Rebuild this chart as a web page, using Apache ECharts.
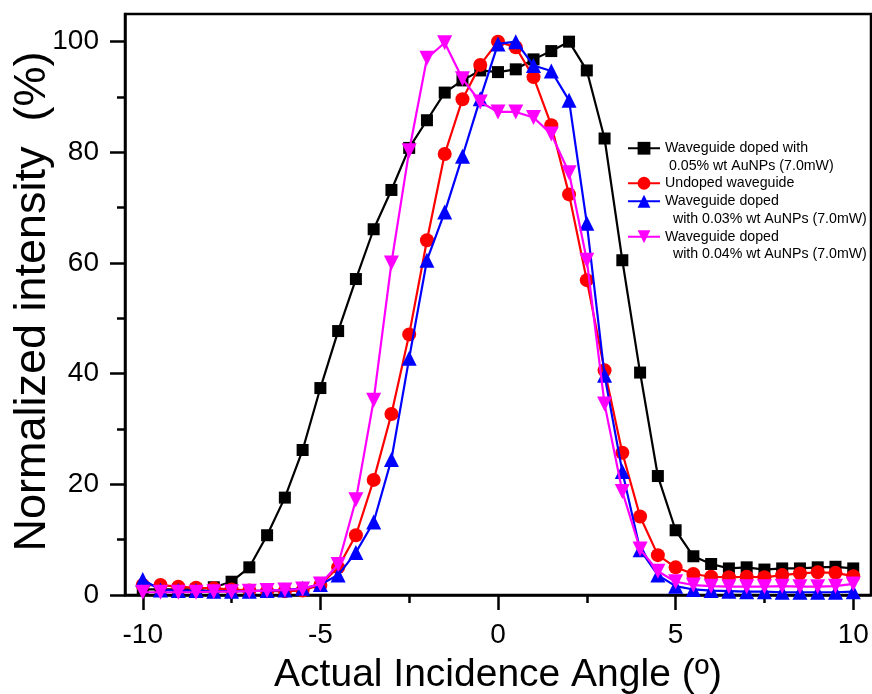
<!DOCTYPE html>
<html><head><meta charset="utf-8">
<script src="https://cdn.jsdelivr.net/npm/echarts@6/dist/echarts.min.js"></script>
<style>html,body{margin:0;padding:0;background:#fff}#c{width:872px;height:694px}</style>
</head><body><div id="c"></div>
<script>
const angles = [-10,-9.5,-9,-8.5,-8,-7.5,-7,-6.5,-6,-5.5,-5,-4.5,-4,-3.5,-3,-2.5,-2,-1.5,-1,-0.5,0,0.5,1,1.5,2,2.5,3,3.5,4,4.5,5,5.5,6,6.5,7,7.5,8,8.5,9,9.5,10];
const doped005 = [1.0,1.0,1.0,1.0,1.4,2.4,5.0,10.8,17.6,26.2,37.4,47.7,57.1,66.1,73.2,80.8,85.8,90.8,93.0,94.8,94.5,95.0,96.8,98.3,100,94.8,82.5,60.5,40.2,21.5,11.7,7.0,5.6,4.8,5.0,4.6,4.8,4.8,5.0,5.1,4.8];
const undoped = [1.8,1.8,1.5,1.3,1.2,1.0,0.8,0.7,0.7,0.8,1.8,5.0,10.8,20.8,32.7,47.1,64.1,79.7,89.6,95.8,100,99.0,93.6,84.9,72.4,56.9,40.6,25.7,14.2,7.2,5.0,3.8,3.3,3.2,3.3,3.2,3.6,3.9,4.1,4.0,3.4];
const doped003 = [2.8,0.9,0.8,0.8,0.7,0.7,0.7,0.8,0.9,1.2,1.9,3.6,7.7,13.2,24.5,42.8,60.5,69.2,79.3,89.7,99.6,100,95.7,94.7,89.4,67.2,39.7,22.3,8.2,3.6,1.6,1.0,0.8,0.7,0.6,0.6,0.5,0.5,0.5,0.5,0.6];
const doped004 = [0.5,0.5,0.5,0.5,0.6,0.6,0.7,0.8,0.9,1.1,2.0,5.5,17.2,35.2,60.0,80.3,97.0,99.8,93.3,89.1,87.3,87.3,86.3,83.3,76.3,60.5,34.5,18.7,8.3,4.3,2.4,1.8,1.6,1.5,1.5,1.5,1.6,1.5,1.5,1.6,2.0];

const seriesNames = [
  'Waveguide doped with\n 0.05% wt AuNPs (7.0mW)',
  'Undoped waveguide',
  'Waveguide doped\n  with 0.03% wt AuNPs (7.0mW)',
  'Waveguide doped\n  with 0.04% wt AuNPs (7.0mW)'
];
const xMajorTicks = [-10,-5,0,5,10];
const xMinorTicks = [-7.5,-2.5,2.5,7.5];
const yMajorTicks = [0,20,40,60,80,100];
const yMinorTicks = [10,30,50,70,90];
const xTitle = 'Actual Incidence Angle (º)';
const yTitle = 'Normalized intensity  (%)';

const FONT = "'Liberation Sans', Arial, sans-serif";
const pair = (arr) => angles.map((a, i) => [a, arr[i]]);

const colors = ['#000000', '#ff0000', '#0000ff', '#ff00ff'];
const symbols = ['rect', 'circle', 'triangle', 'triangle'];
const sizes = [12, 14, 15, 15];
const rotates = [0, 0, 0, 180];
const datas = [doped005, undoped, doped003, doped004];

const LH = 17.5;
const legendTops = [122, 174.5, 175, 210.5];

const chart = echarts.init(document.getElementById('c'), null, {renderer: 'canvas'});
const option = {
  animation: false,
  backgroundColor: '#fff',
  grid: {left: 125, right: 1, top: 14, bottom: 99, show: true, borderColor: '#000', borderWidth: 2.5,
         backgroundColor: 'transparent', outerBoundsMode: 'none', containLabel: false},
  xAxis: [
    {type: 'value', min: -10.5, max: 10.5, position: 'bottom',
     axisLine: {show: true, onZero: false, lineStyle: {color: '#000', width: 2.5}},
     axisTick: {show: true, customValues: xMajorTicks, length: 15, lineStyle: {color: '#000', width: 2.5}},
     axisLabel: {customValues: xMajorTicks, fontSize: 28, color: '#000', fontFamily: FONT, margin: 26},
     splitLine: {show: false},
     name: xTitle, nameLocation: 'middle', nameGap: 61,
     nameTextStyle: {fontSize: 39, color: '#000', fontFamily: FONT}},
    {type: 'value', min: -10.5, max: 10.5, position: 'bottom',
     axisLine: {show: false, onZero: false},
     axisTick: {show: true, customValues: xMinorTicks, length: 8, lineStyle: {color: '#000', width: 2.5}},
     axisLabel: {show: false}, splitLine: {show: false}}
  ],
  yAxis: [
    {type: 'value', min: 0, max: 105, position: 'left',
     axisLine: {show: true, onZero: false, lineStyle: {color: '#000', width: 2.5}},
     axisTick: {show: true, customValues: yMajorTicks, length: 15, lineStyle: {color: '#000', width: 2.5}},
     axisLabel: {customValues: yMajorTicks, fontSize: 28, color: '#000', fontFamily: FONT, margin: 26},
     splitLine: {show: false},
     name: yTitle, nameLocation: 'middle', nameGap: 70, nameMoveOverlap: false,
     nameTextStyle: {fontSize: 45, color: '#000', fontFamily: FONT, padding: [0, 0, 0, 6]}},
    {type: 'value', min: 0, max: 105, position: 'left',
     axisLine: {show: false, onZero: false},
     axisTick: {show: true, customValues: yMinorTicks, length: 8, lineStyle: {color: '#000', width: 2.5}},
     axisLabel: {show: false}, splitLine: {show: false}}
  ],
  legend: seriesNames.map((n, i) => ({
    data: [n], left: 627, top: legendTops[i], orient: 'vertical', padding: 0,
    itemWidth: 32, itemHeight: 16,
    formatter: (name) => name.indexOf('\n') >= 0 ? '\u00a0\n' + name : name,
    textStyle: {fontSize: 14.2, color: '#000', fontFamily: FONT, lineHeight: LH},
    selectedMode: false
  })),
  series: seriesNames.map((n, i) => ({
    name: n, type: 'line', xAxisIndex: 0, yAxisIndex: 0,
    data: pair(datas[i]),
    symbol: symbols[i], symbolSize: sizes[i], symbolRotate: rotates[i],
    showAllSymbol: true,
    lineStyle: {color: colors[i], width: 2.2},
    itemStyle: {color: colors[i]},
    z: 2 + i
  }))
};
chart.setOption(option);
</script>
</body></html>
